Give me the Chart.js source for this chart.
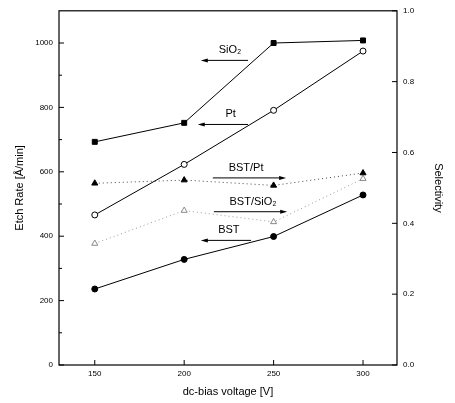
<!DOCTYPE html>
<html>
<head>
<meta charset="utf-8">
<script src="https://cdn.jsdelivr.net/npm/chart.js@4"></script>
<style>
  html, body { margin: 0; padding: 0; background: #fff; }
  #wrap { width: 455px; height: 403px; }
</style>
</head>
<body>
<div id="wrap"><canvas id="chart" width="455" height="403"></canvas></div>
<script>
// values
const voltage = [150, 200, 250, 300];
const etchSiO2 = [693, 752, 1000, 1008];
const etchPt = [466, 623, 791, 975];
const etchBST = [236, 328, 399, 528];
const selBSTPt = [0.513, 0.522, 0.507, 0.542];
const selBSTSiO2 = [0.343, 0.436, 0.404, 0.526];

const xTicks = [150, 200, 250, 300];
const etchTicks = [0, 100, 200, 300, 400, 500, 600, 700, 800, 900, 1000];
const etchLabels = ["0", "", "200", "", "400", "", "600", "", "800", "", "1000"];
const selTicks = [0, 0.2, 0.4, 0.6, 0.8, 1.0];
const selLabels = ["0.0", "0.2", "0.4", "0.6", "0.8", "1.0"];

// arrow notes, in data units (voltage, etch rate)
const notes = [
  { text: "SiO₂", y: 946, from: 235.7, to: 209.3, labelX: 225.6 },
  { text: "Pt", y: 747, from: 235.7, to: 207.6, labelX: 226 },
  { text: "BST/Pt", y: 581, from: 216, to: 257, labelX: 234.6 },
  { text: "BST/SiO₂", y: 476, from: 216.6, to: 257.6, labelX: 238.5 },
  { text: "BST", y: 387, from: 237.4, to: 209.3, labelX: 225 }
];

const pts = arr => arr.map((v, i) => ({ x: voltage[i], y: v }));
const FONT = "'Liberation Sans', Arial, sans-serif";

const framePlugin = {
  id: "frame",
  afterDatasetsDraw(chart) {
    const { ctx, chartArea: a, scales } = chart;
    ctx.save();
    ctx.strokeStyle = "#000";
    ctx.lineWidth = 1.2;
    ctx.strokeRect(a.left, a.top, a.right - a.left, a.bottom - a.top);

    ctx.lineWidth = 1;
    ctx.beginPath();
    etchTicks.forEach((v, i) => {
      const y = scales.y.getPixelForValue(v);
      const len = etchLabels[i] ? 5 : 3;
      ctx.moveTo(a.left, y); ctx.lineTo(a.left + len, y);
    });
    selTicks.forEach(v => {
      const y = scales.y1.getPixelForValue(v);
      ctx.moveTo(a.right, y); ctx.lineTo(a.right - 5, y);
    });
    xTicks.forEach(v => {
      const x = scales.x.getPixelForValue(v);
      ctx.moveTo(x, a.bottom); ctx.lineTo(x, a.bottom - 5);
    });
    ctx.stroke();

    // arrows with labels
    ctx.font = "11px " + FONT;
    ctx.textAlign = "center";
    ctx.textBaseline = "middle";
    ctx.fillStyle = "#000";
    notes.forEach(n => {
      const y = scales.y.getPixelForValue(n.y);
      const x0 = scales.x.getPixelForValue(n.from);
      const x1 = scales.x.getPixelForValue(n.to);
      const dir = Math.sign(x1 - x0);
      ctx.beginPath();
      ctx.moveTo(x0, y); ctx.lineTo(x1 - dir * 4, y);
      ctx.stroke();
      ctx.beginPath();
      ctx.moveTo(x1, y);
      ctx.lineTo(x1 - dir * 7, y - 2);
      ctx.lineTo(x1 - dir * 7, y + 2);
      ctx.closePath();
      ctx.fill();
      ctx.fillText(n.text, scales.x.getPixelForValue(n.labelX), y - 10);
    });
    ctx.restore();
  }
};

new Chart(document.getElementById("chart").getContext("2d"), {
  type: "line",
  data: {
    datasets: [
      { label: "SiO2", data: pts(etchSiO2), yAxisID: "y", borderColor: "#000", borderWidth: 1,
        pointStyle: "rect", pointRadius: 3.5, backgroundColor: "#000", pointBorderColor: "#000" },
      { label: "Pt", data: pts(etchPt), yAxisID: "y", borderColor: "#000", borderWidth: 1,
        pointStyle: "circle", pointRadius: 3, backgroundColor: "#fff", pointBorderColor: "#000" },
      { label: "BST", data: pts(etchBST), yAxisID: "y", borderColor: "#000", borderWidth: 1,
        pointStyle: "circle", pointRadius: 3, backgroundColor: "#000", pointBorderColor: "#000" },
      { label: "BST/Pt", data: pts(selBSTPt), yAxisID: "y1", borderColor: "#444", borderWidth: 1,
        borderDash: [1, 3], pointStyle: "triangle", pointRadius: 3.5, backgroundColor: "#000",
        pointBorderColor: "#000" },
      { label: "BST/SiO2", data: pts(selBSTSiO2), yAxisID: "y1", borderColor: "#999", borderWidth: 1,
        borderDash: [1, 3], pointStyle: "triangle", pointRadius: 3.5, backgroundColor: "#fff",
        pointBorderColor: "#888" }
    ]
  },
  options: {
    responsive: false,
    animation: false,
    layout: { padding: { top: 7, left: 0, right: 0, bottom: 0 } },
    plugins: { legend: { display: false }, tooltip: { enabled: false } },
    scales: {
      x: {
        type: "linear", min: 130, max: 319,
        afterBuildTicks: s => { s.ticks = xTicks.map(v => ({ value: v })); },
        afterFit: s => { s.height = 38; },
        grid: { display: false, drawTicks: false },
        border: { display: false },
        ticks: { color: "#000", font: { family: FONT, size: 8 }, padding: 4, maxRotation: 0 },
        title: { display: true, text: "dc-bias voltage [V]", color: "#000",
          font: { family: FONT, size: 11 }, padding: { top: 2, bottom: 4 } }
      },
      y: {
        type: "linear", position: "left", min: 0, max: 1100,
        afterBuildTicks: s => { s.ticks = etchTicks.map(v => ({ value: v })); },
        afterFit: s => { s.width = 59; },
        grid: { display: false, drawTicks: false },
        border: { display: false },
        ticks: { color: "#000", font: { family: FONT, size: 8 }, padding: 6,
          callback: (v, i) => etchLabels[i] },
        title: { display: true, text: "Etch Rate [Å/min]", color: "#000",
          font: { family: FONT, size: 11 }, padding: { top: 13, bottom: 0 } }
      },
      y1: {
        type: "linear", position: "right", min: 0, max: 1.0,
        afterBuildTicks: s => { s.ticks = selTicks.map(v => ({ value: v })); },
        afterFit: s => { s.width = 58; },
        grid: { display: false, drawTicks: false },
        border: { display: false },
        ticks: { color: "#000", font: { family: FONT, size: 8 }, padding: 6,
          callback: (v, i) => selLabels[i] },
        title: { display: true, text: "Selectivity", color: "#000",
          font: { family: FONT, size: 11 }, padding: { top: 10, bottom: 0 } }
      }
    }
  },
  plugins: [framePlugin]
});
</script>
</body>
</html>
